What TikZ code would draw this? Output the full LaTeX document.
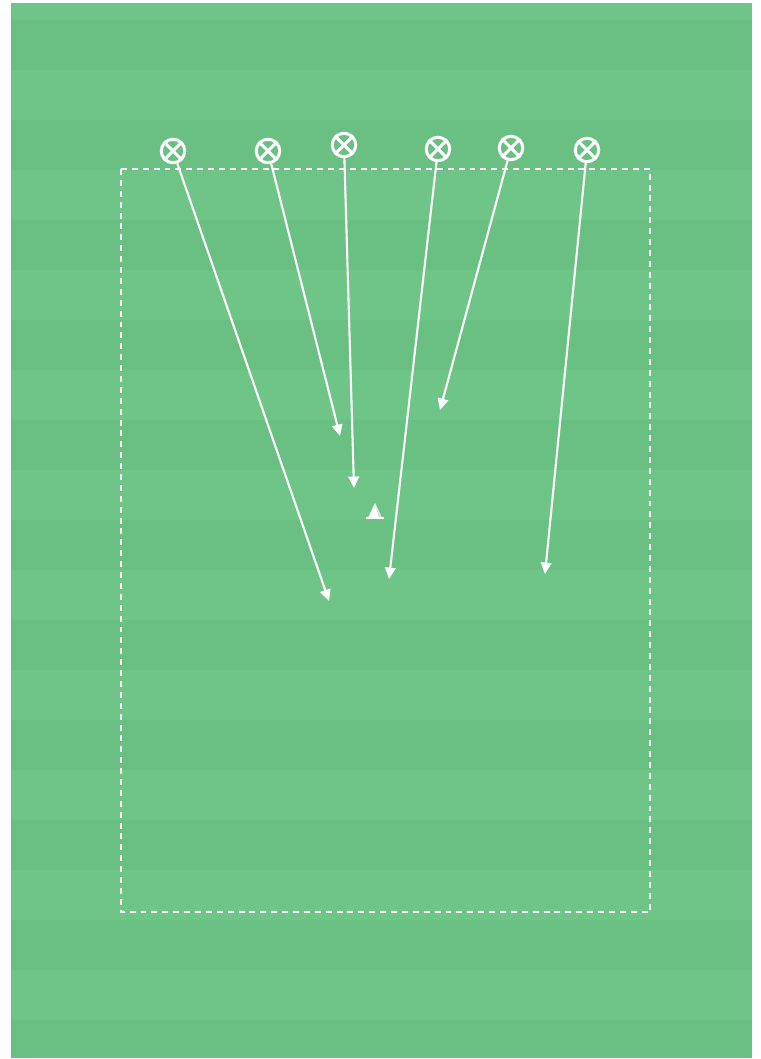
\documentclass[tikz,border=0pt]{standalone}
\usepackage{tikz}
\usetikzlibrary{arrows.meta}

\definecolor{pitchlight}{RGB}{111,197,136}
\definecolor{pitchdark}{RGB}{106,191,131}

\begin{document}
\begin{tikzpicture}[x=0.02cm, y=-0.02cm,
	player/.style={circle, draw=white, line width=1.7pt, minimum size=0.47cm, inner sep=0pt},
	run/.style={white, line width=1.2pt, -{Triangle[length=6.5pt, width=6pt]}}]
	\useasboundingbox (0,0) rectangle (761,1059);
	% pitch with mowed stripes
	\fill[pitchlight] (11,3) rectangle (752,1058);
	\foreach \y in {20,120,...,920}
		\fill[pitchdark] (11,\y) rectangle (752,\y+50);
	\fill[pitchdark] (11,1020) rectangle (752,1058);
	% playing area
	\draw[white, line width=1pt, dash pattern=on 3.4pt off 2.8pt] (121,169) rectangle (650,912);
	% players
	\foreach \i/\x/\y in {1/173/151, 2/268/151, 3/344/145, 4/438/149, 5/511/148, 6/587/150} {
		\node[player] (p\i) at (\x,\y) {};
		\draw[white, line width=1.7pt] (p\i.45) -- (p\i.225) (p\i.135) -- (p\i.315);
	}
	% run targets
	\coordinate (t1) at (329,601);
	\coordinate (t2) at (340,436);
	\coordinate (t3) at (354,488);
	\coordinate (t4) at (389,579);
	\coordinate (t5) at (440,410);
	\coordinate (t6) at (545,574);
	\foreach \i in {1,...,6}
		\draw[run] (p\i) -- (t\i);
	% cone
	\coordinate (cone) at (375,511);
	\fill[white] (368,518) -- (375,503) -- (382,518) -- cycle;
	\fill[black!12] (375,503) -- (379,518) -- (382,518) -- cycle;
	\draw[white, line width=0.9pt] (366,518) -- (384,518);
\end{tikzpicture}
\end{document}
